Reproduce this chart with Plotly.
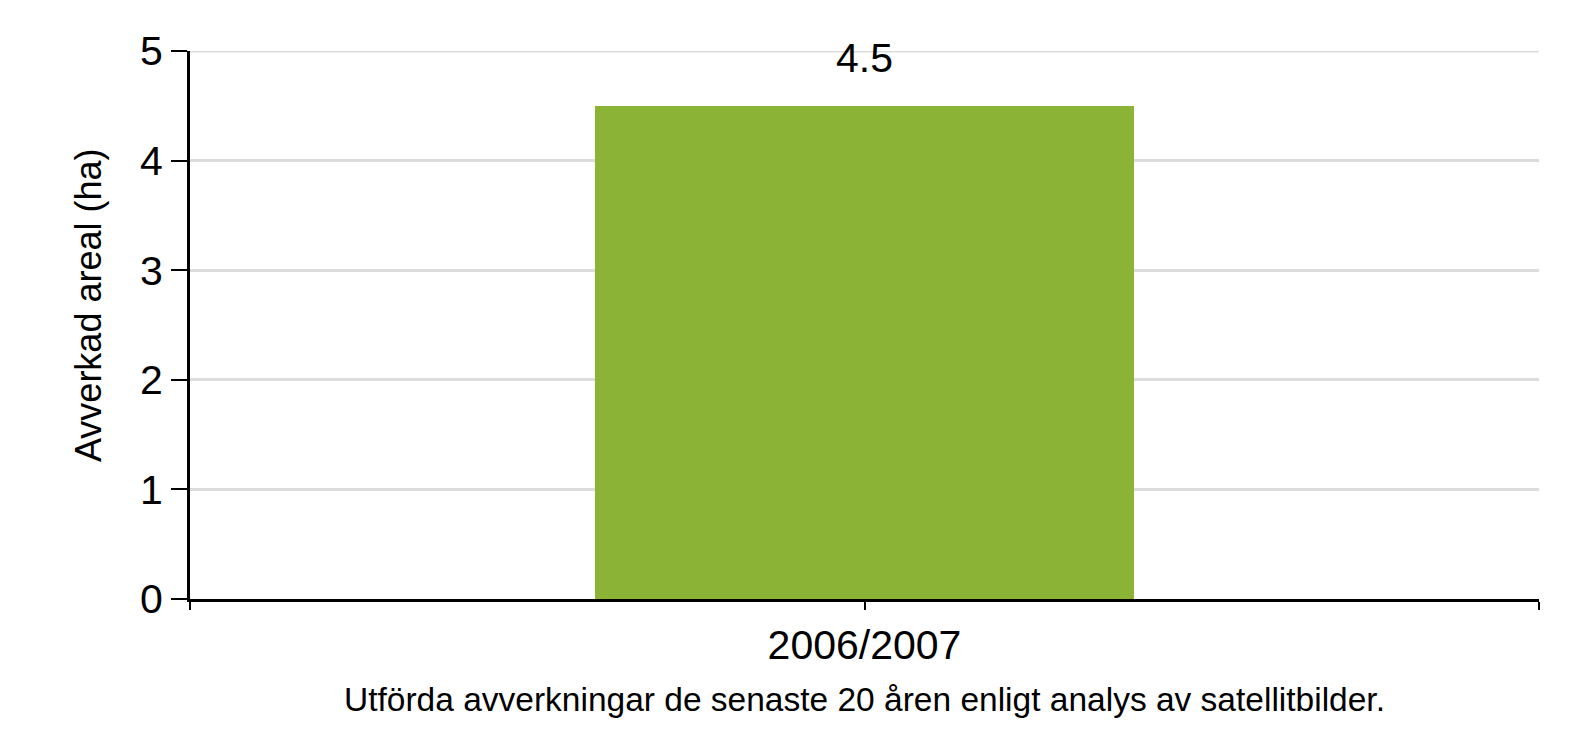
import plotly.graph_objects as go

categories = ["2006/2007"]
values = [4.5]
y_ticks = [0, 1, 2, 3, 4, 5]
y_title = "Avverkad areal (ha)"
caption = "Utförda avverkningar de senaste 20 åren enligt analys av satellitbilder."

FONT = "Liberation Sans, Arial, sans-serif"
x_pos = list(range(len(categories)))

fig = go.Figure()
fig.add_trace(go.Bar(
    x=x_pos, y=values, width=0.4,
    marker=dict(color="#8BB336", line=dict(width=0)),
    hoverinfo="skip",
))

for xp, v in zip(x_pos, values):
    fig.add_annotation(x=xp, y=v, xref="x", yref="y", text=f"{v:g}",
                       showarrow=False, yanchor="bottom", yshift=23,
                       font=dict(family=FONT, size=41, color="black"))

fig.add_annotation(x=0.5, y=0, xref="paper", yref="paper", text=caption,
                   showarrow=False, yanchor="top", yshift=-80,
                   font=dict(family=FONT, size=33.5, color="black"))

fig.add_annotation(x=0, y=0.5365, xref="paper", yref="paper", text=y_title,
                   showarrow=False, textangle=-90, xanchor="center", yanchor="middle",
                   xshift=-101,
                   font=dict(family=FONT, size=36, color="black"))

# top gridline (plotly clips gridlines lying on the plot edge)
fig.add_shape(type="line", xref="paper", yref="y", x0=0, x1=1,
              y0=max(y_ticks), y1=max(y_ticks),
              line=dict(color="#DCDCDC", width=3), layer="below")

tickvals = [-0.5] + x_pos + [len(categories) - 0.5]
ticktext = [""] + categories + [""]

fig.update_layout(
    width=1596, height=755,
    margin=dict(l=190, r=57, t=51, b=156, pad=0),
    paper_bgcolor="white", plot_bgcolor="white",
    showlegend=False,
    bargap=0,
    font=dict(family=FONT, color="black"),
    xaxis=dict(
        range=[-0.5, len(categories) - 0.5],
        tickmode="array", tickvals=tickvals, ticktext=ticktext,
        showgrid=False, zeroline=False,
        showline=True, linecolor="black", linewidth=3,
        ticks="outside", ticklen=8, tickwidth=2, tickcolor="black",
        tickfont=dict(family=FONT, size=41, color="black"),
        fixedrange=True,
    ),
    yaxis=dict(
        range=[0, 5],
        tickmode="array", tickvals=y_ticks, ticktext=[str(t) for t in y_ticks],
        showgrid=True, gridcolor="#DCDCDC", gridwidth=3,
        zeroline=False,
        showline=True, linecolor="black", linewidth=3,
        ticks="outside", ticklen=16, tickwidth=1.5, tickcolor="black",
        tickfont=dict(family=FONT, size=41, color="black"),
        fixedrange=True,
    ),
)

fig.write_html("out.html", config={"displayModeBar": False})
